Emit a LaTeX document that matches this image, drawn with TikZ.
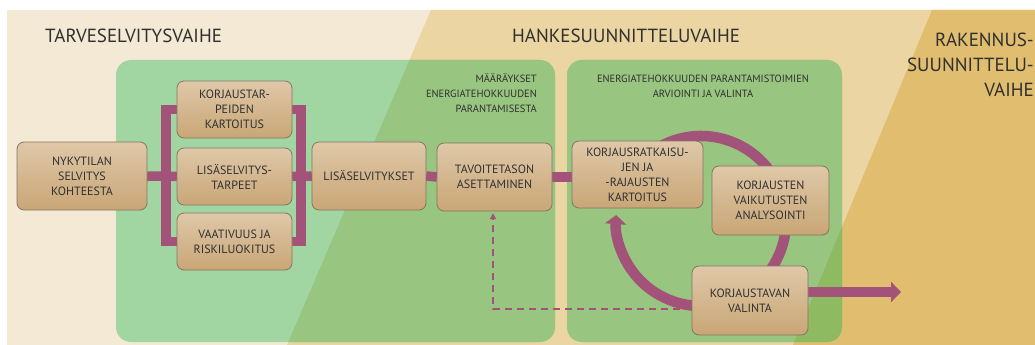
\documentclass[tikz,border=0pt]{standalone}
\usepackage{fontspec}
\setmainfont{PT Sans}
\usetikzlibrary{arrows.meta,calc}

\definecolor{paper}{HTML}{F3E9D4}
\definecolor{tanband}{HTML}{EAD5A3}
\definecolor{goldband}{HTML}{E0BD6F}
\definecolor{greenA}{HTML}{A1D6A2}
\definecolor{greenB}{HTML}{98C57F}
\definecolor{greenC}{HTML}{8EBA62}
\definecolor{plum}{HTML}{A3527A}
\definecolor{ink}{HTML}{303030}
\definecolor{boxtop}{HTML}{DFC8A8}
\definecolor{boxbot}{HTML}{C9A676}
\definecolor{boxedge}{HTML}{857563}

\tikzset{
  stepbox/.style={draw=boxedge, line width=0.8pt, rounded corners=7pt,
    top color=boxtop, bottom color=boxbot, align=center, text=ink,
    font=\fontsize{12}{15}\selectfont, inner sep=0pt},
  phase/.style={text=ink, font=\fontsize{19}{25}\selectfont, inner sep=0pt},
  note/.style={text=ink, font=\fontsize{10.5}{15}\selectfont, inner sep=0pt},
  pipe/.style={draw=plum, line width=9.5pt, line join=miter, line cap=butt},
  ring/.style={draw=plum, line width=10.5pt, line cap=butt},
  feedback/.style={draw=plum, line width=1.2pt, dash pattern=on 7pt off 5pt},
  panel/.style={rounded corners=15pt}
}

\begin{document}
\begin{tikzpicture}[x=1pt,y=-1pt]
  \useasboundingbox (0,0) rectangle (1035,345);
  \clip (0,0) rectangle (1035,345);

  % phase bands
  \fill[white] (0,0) rectangle (1035,345);
  \fill[paper] (7,10) rectangle (1035,345);
  \fill[tanband] (431,10) -- (1035,10) -- (1035,345) -- (287,345) -- cycle;
  \fill[goldband] (932,10) -- (1035,10) -- (1035,345) -- (793,345) -- cycle;

  % green panels, tinted by the band underneath
  \fill[greenA, panel] (116,60) rectangle (555,342);
  \fill[greenA, panel] (567,60) rectangle (842,342);
  \begin{scope}
    \clip (431,10) -- (1035,10) -- (1035,345) -- (287,345) -- cycle;
    \fill[greenB, panel] (116,60) rectangle (555,342);
    \fill[greenB, panel] (567,60) rectangle (842,342);
  \end{scope}
  \begin{scope}
    \clip (932,10) -- (1035,10) -- (1035,345) -- (793,345) -- cycle;
    \fill[greenC, panel] (567,60) rectangle (842,342);
  \end{scope}

  % phase titles
  \node[phase, anchor=base west] (t1) at (45,42) {TARVESELVITYSVAIHE};
  \node[phase, anchor=base west] (t2) at (512,42) {HANKESUUNNITTELUVAIHE};
  \node[phase, anchor=base east] (t3a) at (1034,46.5) {RAKENNUS-};
  \node[phase, anchor=base east] (t3b) at (1034,71.5) {SUUNNITTELU-};
  \node[phase, anchor=base east] (t3c) at (1034,96.5) {VAIHE};

  % panel notes
  \node[note, anchor=base east] (n1a) at (537,82.5) {MÄÄRÄYKSET};
  \node[note, anchor=base east] (n1b) at (537,97.5) {ENERGIATEHOKKUUDEN};
  \node[note, anchor=base east] (n1c) at (537,112.5) {PARANTAMISESTA};
  \node[note, anchor=base] (n2a) at (703,82.5) {ENERGIATEHOKKUUDEN PARANTAMISTOIMIEN};
  \node[note, anchor=base] (n2b) at (703,97.5) {ARVIOINTI JA VALINTA};

  % step positions
  \coordinate (pNK) at (82,176);
  \coordinate (pKT) at (234.5,109.5);
  \coordinate (pLT) at (234.5,176.5);
  \coordinate (pVR) at (234.5,241.5);
  \coordinate (pLS) at (369,176);
  \coordinate (pTA) at (494.5,177);
  \coordinate (pKR) at (637.5,174.5);
  \coordinate (pKA) at (770.5,200.5);
  \coordinate (pKV) at (750,300.5);
  \coordinate (hub) at (701,221);
  \coordinate (exit) at (901,292);

  % step boxes (placed first so connectors can use their anchors,
  % then redrawn on top below)
  \path
    node[minimum width=130pt, minimum height=68pt] (NK) at (pNK) {}
    node[minimum width=115pt, minimum height=57pt] (KT) at (pKT) {}
    node[minimum width=115pt, minimum height=57pt] (LT) at (pLT) {}
    node[minimum width=115pt, minimum height=57pt] (VR) at (pVR) {}
    node[minimum width=114pt, minimum height=68pt] (LS) at (pLS) {}
    node[minimum width=115pt, minimum height=68pt] (TA) at (pTA) {}
    node[minimum width=131pt, minimum height=67pt] (KR) at (pKR) {}
    node[minimum width=117pt, minimum height=69pt] (KA) at (pKA) {}
    node[minimum width=116pt, minimum height=69pt] (KV) at (pKV) {};

  % connectors
  \draw[pipe] (NK.east) -- (LT.west);
  \draw[pipe] (KT.west) -- ++(-11,0) |- (VR.west);
  \draw[pipe] (KT.east) -- ++(9,0) |- (VR.east);
  \draw[pipe] (LT.east) -- (LS.west);
  \draw[pipe] (LS.east) -- (TA.west);
  \draw[pipe] (TA.east) -- (TA.east -| KR.west);
  \draw[pipe, -{Triangle[width=20pt,length=10pt]}] ($(KV.east)+(0,-8.5)$) -- (exit);

  % improvement cycle
  \draw[ring] ($(hub)+(-160:85)$) arc[start angle=-160, end angle=80, radius=85];
  \draw[ring, -{Triangle[width=21pt,length=9pt]}] ($(hub)+(85:85)$) arc[start angle=85, end angle=184, radius=85];

  % feedback to target setting
  \draw[feedback, -{Triangle[width=6pt,length=6pt]}] ($(KV.west)+(0,8.5)$) -| ($(TA.south)+(-1.5,2)$);

  % step boxes
  \node[stepbox, minimum width=130pt, minimum height=68pt] at (pNK) {NYKYTILAN\\SELVITYS\\KOHTEESTA};
  \node[stepbox, minimum width=115pt, minimum height=57pt] at (pKT) {KORJAUSTAR-\\PEIDEN\\KARTOITUS};
  \node[stepbox, minimum width=115pt, minimum height=57pt] at (pLT) {LISÄSELVITYS-\\TARPEET};
  \node[stepbox, minimum width=115pt, minimum height=57pt] at (pVR) {VAATIVUUS JA\\RISKILUOKITUS};
  \node[stepbox, minimum width=114pt, minimum height=68pt] at (pLS) {LISÄSELVITYKSET};
  \node[stepbox, minimum width=115pt, minimum height=68pt] at (pTA) {TAVOITETASON\\ASETTAMINEN};
  \node[stepbox, minimum width=131pt, minimum height=67pt] at (pKR) {KORJAUSRATKAISU-\\JEN JA\\-RAJAUSTEN\\KARTOITUS};
  \node[stepbox, minimum width=117pt, minimum height=69pt] at (pKA) {KORJAUSTEN\\VAIKUTUSTEN\\ANALYSOINTI};
  \node[stepbox, minimum width=116pt, minimum height=69pt] at (pKV) {KORJAUSTAVAN\\VALINTA};
\end{tikzpicture}
\end{document}
